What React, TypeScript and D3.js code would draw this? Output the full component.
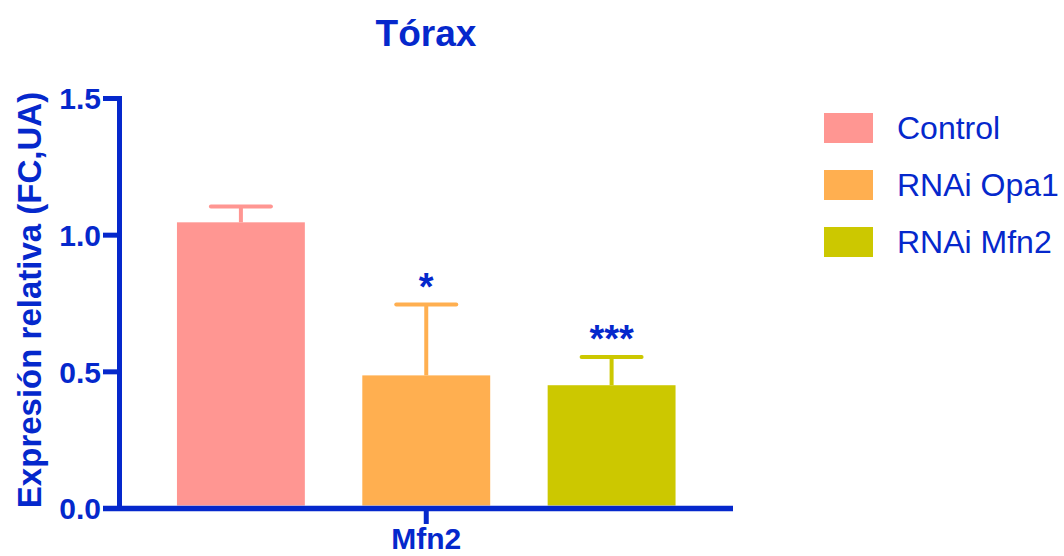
import React from "react";
import * as d3 from "d3";

// Relative expression in thorax, one gene group with three conditions
const categories = ["Mfn2"];
const series = ["Control", "RNAi Opa1", "RNAi Mfn2"];
const means = [1.047, 0.487, 0.451];
const errors = [0.058, 0.259, 0.103];
const significance = ["", "*", "***"];
const colors = ["#FF9692", "#FFAF50", "#CCC800"];
const yTicks = [0, 0.5, 1.0, 1.5];

const W = 1064;
const H = 556;
const BLUE = "#0528CC";
const FONT = "'Liberation Sans', Arial, Helvetica, sans-serif";

const axisX = 119.5;
const axisRight = 733;
const y0 = 508.5;
const yTop = 98.5;

export default function App() {
  const y = d3.scaleLinear().domain([0, 1.5]).range([y0, yTop]);
  const xOuter = d3.scaleBand().domain(categories).range([axisX, axisRight]).padding(0);
  const xInner = d3
    .scaleBand()
    .domain(series)
    .range([0, xOuter.bandwidth()])
    .paddingInner(0.31)
    .paddingOuter(0.31);

  const capW = 64;

  return (
    <svg
      width={W}
      height={H}
      style={{ position: "absolute", left: 0, top: 0, background: "#fff" }}
      fontFamily={FONT}
    >
      {/* title */}
      <text x={426} y={46} textAnchor="middle" fontSize={37} fontWeight="bold" fill={BLUE}>
        Tórax
      </text>

      {/* y-axis label */}
      <text
        transform={`translate(41,300) rotate(-90)`}
        textAnchor="middle"
        fontSize={33}
        fontWeight="bold"
        fill={BLUE}
      >
        Expresión relativa (FC,UA)
      </text>

      {/* bars with error bars */}
      {categories.map((cat) => (
        <g key={cat} transform={`translate(${xOuter(cat)},0)`}>
          {series.map((s, i) => {
            const bx = xInner(s)!;
            const bw = xInner.bandwidth();
            const cx = bx + bw / 2;
            const top = y(means[i]);
            const errTop = y(means[i] + errors[i]);
            return (
              <g key={s}>
                <rect x={bx} y={top} width={bw} height={y0 - 3 - top} fill={colors[i]} />
                <line x1={cx} x2={cx} y1={top} y2={errTop} stroke={colors[i]} strokeWidth={4} />
                <line
                  x1={cx - capW / 2 + 2}
                  x2={cx + capW / 2 - 2}
                  y1={errTop}
                  y2={errTop}
                  stroke={colors[i]}
                  strokeWidth={4}
                  strokeLinecap="round"
                />
                {significance[i] && (
                  <text
                    x={cx}
                    y={errTop - 5}
                    textAnchor="middle"
                    fontSize={38}
                    fontWeight="bold"
                    fill={BLUE}
                  >
                    {significance[i]}
                  </text>
                )}
              </g>
            );
          })}
        </g>
      ))}

      {/* y axis */}
      <line x1={axisX} x2={axisX} y1={yTop - 2.5} y2={y0 + 2.5} stroke={BLUE} strokeWidth={5} />
      {yTicks.map((t) => (
        <g key={t}>
          <line x1={103} x2={axisX} y1={y(t)} y2={y(t)} stroke={BLUE} strokeWidth={5} />
          <text
            x={101}
            y={y(t)}
            dy="0.36em"
            textAnchor="end"
            fontSize={30}
            fontWeight="bold"
            fill={BLUE}
          >
            {t.toFixed(1)}
          </text>
        </g>
      ))}

      {/* x axis */}
      <line x1={103} x2={axisRight} y1={y0} y2={y0} stroke={BLUE} strokeWidth={5.5} />
      {categories.map((cat) => {
        const cx = xOuter(cat)! + xOuter.bandwidth() / 2;
        return (
          <g key={cat}>
            <line x1={cx} x2={cx} y1={y0} y2={524} stroke={BLUE} strokeWidth={5} />
            <text x={cx} y={549} textAnchor="middle" fontSize={30} fontWeight="bold" fill={BLUE}>
              {cat}
            </text>
          </g>
        );
      })}

      {/* legend */}
      {series.map((s, i) => (
        <g key={s} transform={`translate(824,${113 + i * 57})`}>
          <rect x={0} y={0} width={49} height={30} fill={colors[i]} />
          <text x={73} y={26} fontSize={32} fill={BLUE}>
            {s}
          </text>
        </g>
      ))}
    </svg>
  );
}
